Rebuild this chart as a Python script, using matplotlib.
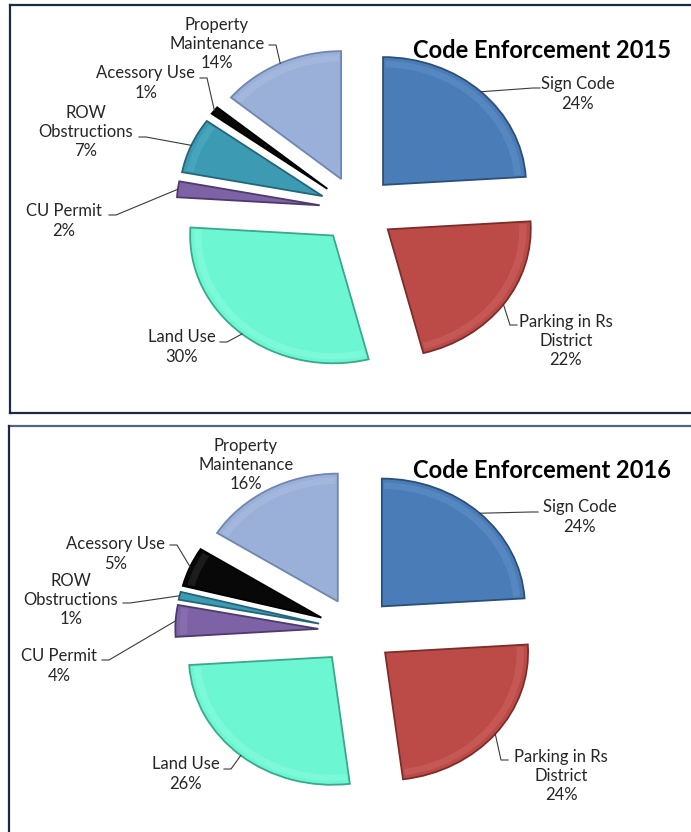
import matplotlib.pyplot as plt
from matplotlib.patches import Wedge
import numpy as np

plt.rcParams['font.family'] = ['Lato', 'DejaVu Sans']

# data
categories = ['Sign Code', 'Parking in Rs\nDistrict', 'Land Use', 'CU Permit',
              'ROW\nObstructions', 'Acessory Use', 'Property\nMaintenance']
share_2015 = [24, 22, 30, 2, 7, 1, 14]
share_2016 = [24, 24, 26, 4, 1, 5, 16]
years = ['2015', '2016']

# styles
colors = ['#4A7DB8', '#BC4B48', '#6CF6D2', '#7E62A6', '#3C9AB3', '#080808', '#9AB0D9']
edge_colors = ['#2C4E78', '#7A2D2B', '#3AA88B', '#4E3A6C', '#22667A', '#000000', '#6F86B0']
rim_colors = ['#6F9AD0', '#D8716D', '#9AFFE8', '#9A80C2', '#5BB8D0', '#444444', '#B5C6E6']

W, H = 691, 832
RX, RY = 143.0, 127.8     # pie radius in pixels (x / y)
EXPLODE = 0.264

# layout, in pixels from the top-left corner
centers = [(357.2, 209.5), (356.0, 631.0)]
title_pos = [(542, 50), (542, 470)]
label_pos = [
    [(578, 94), (566, 341), (182, 347), (64, 221), (86, 132), (146, 83), (217, 44)],
    [(580, 517), (561, 776), (186, 774), (59, 666), (71, 600), (116, 554), (246, 465)],
]
stub_pos = [
    [(540, 88), (517, 325), (220, 342), (109, 215), (139, 137), (200, 78), (269, 45)],
    [(538, 512), (508, 760), (224, 769), (102, 660), (123, 603), (170, 545), None],
]

fig = plt.figure(figsize=(W / 100, H / 100), dpi=100)
fig.patch.set_facecolor('white')

# panel borders
bg = fig.add_axes([0, 0, 1, 1])
bg.set_xlim(0, W)
bg.set_ylim(H, 0)
bg.axis('off')
navy = '#1B2A47'
bg.plot([10, W], [5, 5], color=navy, lw=1.6)
bg.plot([10, 10], [5, 413], color=navy, lw=1.6)
bg.plot([10, W], [413, 413], color=navy, lw=1.6)
bg.plot([9, W], [426, 426], color='#54657E', lw=1.6)
bg.plot([9, 9], [426, H], color=navy, lw=1.6)

for k, values in enumerate([share_2015, share_2016]):
    cx, cy = centers[k]
    ax = fig.add_axes([0, 0, 1, 1])
    ax.patch.set_alpha(0)

    def to_data(p, cx=cx, cy=cy):
        return (p[0] - cx) / RX, (cy - p[1]) / RY

    wedges, _ = ax.pie(values, colors=colors, startangle=90, counterclock=False,
                       explode=[EXPLODE] * len(values), radius=1,
                       wedgeprops=dict(linewidth=1.3))
    for i, w in enumerate(wedges):
        w.set_edgecolor(edge_colors[i])
        # soft inner rim to hint the bevel
        span = w.theta2 - w.theta1
        if span > 10:
            rim = Wedge(w.center, w.r * 0.97, w.theta1 + 1.0, w.theta2 - 1.0,
                        width=0.05, facecolor=rim_colors[i], edgecolor='none',
                        alpha=0.35, zorder=w.get_zorder() + 0.1)
            ax.add_patch(rim)

    ax.set_aspect('auto')
    ax.set_xlim(-cx / RX, (W - cx) / RX)
    ax.set_ylim((cy - H) / RY, cy / RY)
    ax.axis('off')

    # labels with leader lines
    for i, w in enumerate(wedges):
        mid = np.deg2rad((w.theta1 + w.theta2) / 2)
        ax_x = w.center[0] + w.r * np.cos(mid)
        ax_y = w.center[1] + w.r * np.sin(mid)
        tx, ty = to_data(label_pos[k][i])
        ax.text(tx, ty, f'{categories[i]}\n{values[i]}%', ha='center', va='center',
                fontsize=12, color='#262626', linespacing=1.25)
        if stub_pos[k][i] is not None:
            sx, sy = to_data(stub_pos[k][i])
            step = 7 / RX if ax_x > sx else -7 / RX
            ax.plot([sx, sx + step, ax_x], [sy, sy, ax_y], color='#3A3A3A', lw=0.8)

    tx, ty = to_data(title_pos[k])
    ax.text(tx, ty, f'Code Enforcement {years[k]}', ha='center', va='center',
            fontsize=17, fontweight='bold', color='black')

fig.savefig('out.png', dpi=100)
